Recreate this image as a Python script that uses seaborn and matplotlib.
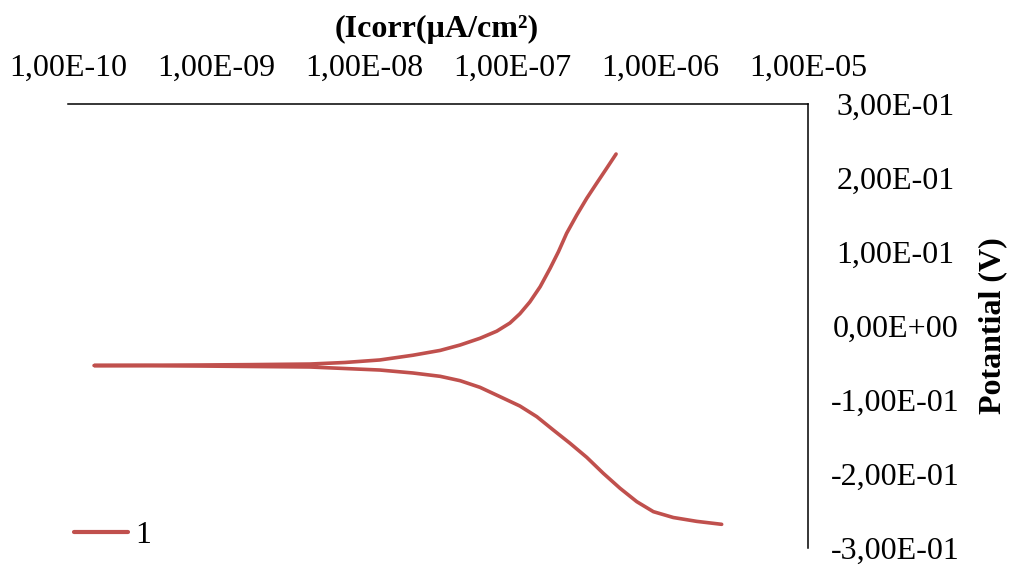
import matplotlib
matplotlib.use("Agg")
import matplotlib.pyplot as plt
from matplotlib.ticker import FixedLocator, FuncFormatter, NullLocator
import seaborn as sns
import pandas as pd

# Polarisation curve (single scan: cathodic end -> Ecorr -> anodic end)
current = [2.61e-6, 1.77e-6, 1.23e-6, 9.02e-7, 6.97e-7, 5.37e-7, 4.14e-7, 3.20e-7,
           2.47e-7, 1.90e-7, 1.47e-7, 1.13e-7, 8.30e-8, 6.08e-8, 4.46e-8, 3.27e-8,
           2.14e-8, 1.28e-8, 4.31e-9, 1.70e-9, 7.8e-10, 3.58e-10, 1.5e-10,
           3.58e-10, 7.8e-10, 1.70e-9, 4.31e-9, 7.44e-9, 1.28e-8, 2.14e-8, 3.27e-8,
           4.46e-8, 6.08e-8, 7.89e-8, 9.68e-8, 1.13e-7, 1.32e-7, 1.55e-7, 1.81e-7,
           2.06e-7, 2.34e-7, 2.74e-7, 3.20e-7, 3.73e-7, 4.36e-7, 5.05e-7]
potential = [-0.2680, -0.2640, -0.2588, -0.2509, -0.2374, -0.2193, -0.1991, -0.1775,
             -0.1586, -0.1405, -0.1225, -0.1081, -0.0955, -0.0829, -0.0739, -0.0680,
             -0.0635, -0.0595, -0.0554, -0.0547, -0.0541, -0.0537, -0.0534,
             -0.0530, -0.0527, -0.0522, -0.0514, -0.0493, -0.0459, -0.0395, -0.0330,
             -0.0257, -0.0166, -0.0070, 0.0040, 0.0165, 0.0325, 0.0531, 0.0780,
             0.1004, 0.1253, 0.1500, 0.1726, 0.1928, 0.2131, 0.2324]
series_name = "1"

x_ticks = [1e-10, 1e-9, 1e-8, 1e-7, 1e-6, 1e-5]
y_ticks = [-0.3, -0.2, -0.1, 0.0, 0.1, 0.2, 0.3]
x_title = "(Icorr(µA/cm²)"
y_title = "Potantial (V)"

df = pd.DataFrame({"I": current, "E": potential, "s": series_name})

sns.set_style("white")
plt.rcParams["font.family"] = ["Liberation Serif", "DejaVu Serif"]
plt.rcParams["text.color"] = "black"
plt.rcParams["xtick.color"] = "black"
plt.rcParams["ytick.color"] = "black"

FS = 23

fig = plt.figure(figsize=(10.15, 5.67), dpi=100)
ax = fig.add_axes([68 / 1015, 1 - 548 / 567, 740 / 1015, 444 / 567])

sns.lineplot(data=df, x="I", y="E", hue="s", palette=["#C0504D"], sort=False,
             estimator=None, linewidth=2.6, ax=ax, solid_capstyle="round",
             solid_joinstyle="round")

ax.set_xscale("log")
ax.set_xlim(1e-10, 1e-5)
ax.set_ylim(-0.3, 0.3)

def sci(v, pos=None):
    return f"{v:.2E}".replace(".", ",")

ax.xaxis.set_major_locator(FixedLocator(x_ticks))
ax.xaxis.set_minor_locator(NullLocator())
ax.xaxis.set_major_formatter(FuncFormatter(sci))
ax.yaxis.set_major_locator(FixedLocator(y_ticks))
ax.yaxis.set_major_formatter(FuncFormatter(sci))

ax.xaxis.tick_top()
ax.yaxis.tick_right()
ax.tick_params(axis="x", length=0, pad=15, labelsize=FS, labelcolor="black")
ax.tick_params(axis="y", length=0, pad=63, labelsize=FS, labelcolor="black")
for lab in ax.get_yticklabels():
    lab.set_horizontalalignment("center")

for side in ["left", "bottom"]:
    ax.spines[side].set_visible(False)
for side in ["top", "right"]:
    ax.spines[side].set_visible(True)
    ax.spines[side].set_color("black")
    ax.spines[side].set_linewidth(1.1)

ax.set_xlabel("")
ax.set_ylabel("")

fig.text(437 / 1015, 1 - 29 / 567, x_title, ha="center", va="center",
         fontsize=FS, fontweight="bold", color="black")
fig.text(993 / 1015, 1 - 326 / 567, y_title, ha="center", va="center",
         rotation=90, fontsize=FS, fontweight="bold", color="black")

leg = ax.legend(loc="center left", bbox_to_anchor=(74 / 1015, 1 - 535 / 567),
                bbox_transform=fig.transFigure, frameon=False, fontsize=FS,
                handlelength=1.7, handletextpad=0.22, borderpad=0, borderaxespad=0)
for h in leg.get_lines():
    h.set_linewidth(3)
for t in leg.get_texts():
    t.set_color("black")

fig.savefig("out.png", dpi=100, facecolor="white")
